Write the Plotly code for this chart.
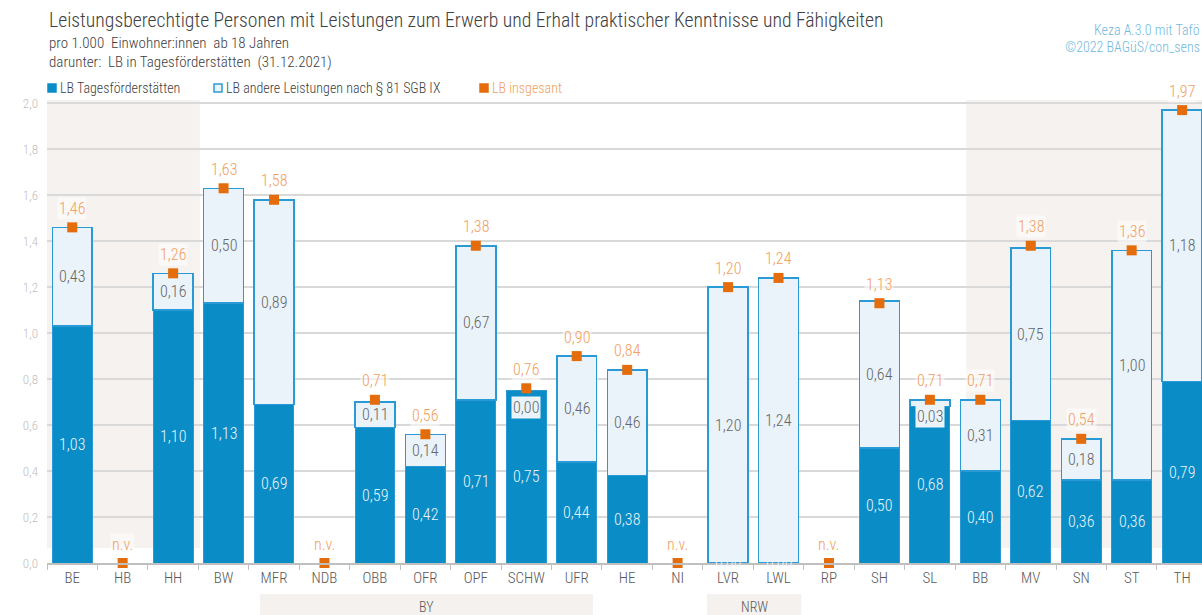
import plotly.graph_objects as go

# ---------------- data ----------------
categories = ["BE", "HB", "HH", "BW", "MFR", "NDB", "OBB", "OFR", "OPF", "SCHW", "UFR", "HE",
              "NI", "LVR", "LWL", "RP", "SH", "SL", "BB", "MV", "SN", "ST", "TH"]
lb_tagesfoerder = [1.03, None, 1.10, 1.13, 0.69, None, 0.59, 0.42, 0.71, 0.75, 0.44, 0.38,
                   None, 0.00, 0.00, None, 0.50, 0.68, 0.40, 0.62, 0.36, 0.36, 0.79]
lb_andere = [0.43, None, 0.16, 0.50, 0.89, None, 0.11, 0.14, 0.67, 0.00, 0.46, 0.46,
             None, 1.20, 1.24, None, 0.64, 0.03, 0.31, 0.75, 0.18, 1.00, 1.18]
lb_insgesamt = [1.46, None, 1.26, 1.63, 1.58, None, 0.71, 0.56, 1.38, 0.76, 0.90, 0.84,
                None, 1.20, 1.24, None, 1.13, 0.71, 0.71, 1.38, 0.54, 1.36, 1.97]
y_ticks = [0.0, 0.2, 0.4, 0.6, 0.8, 1.0, 1.2, 1.4, 1.6, 1.8, 2.0]

title = "Leistungsberechtigte Personen mit Leistungen zum Erwerb und Erhalt praktischer Kenntnisse und Fähigkeiten"
subtitle1 = "pro 1.000  Einwohner:innen  ab 18 Jahren"
subtitle2 = "darunter:  LB in Tagesförderstätten  (31.12.2021)"
source1 = "Keza A.3.0 mit Tafö"
source2 = "©2022 BAGüS/con_sens"
legend_names = ["LB Tagesförderstätten", "LB andere Leistungen nach § 81 SGB IX", "LB insgesant"]
groups = [("BY", 3.72, 10.32), ("NRW", 12.58, 14.45)]

# ---------------- style ----------------
FONT = "Liberation Sans Narrow, Arial Narrow, Roboto Condensed, DejaVu Sans Condensed, sans-serif"
DARK = "#0a8cc6"
LIGHT = "#eaf3fa"
BORDER = "#2a9ad6"
ORANGE = "#e46c0a"
ORANGE_TXT = "#f0a060"
BEIGE = "#f5f2ef"
GREY_TXT = "#595959"

W, H = 1202, 615
L, R, T, B = 47, 0, 100, 52
PW, PH = W - L - R, H - T - B
X_MAX = 22.394
Y_MAX = 2.014


def px(x):
    return (x - L) / PW


def py(y):
    return (H - B - y) / PH


def fmt(v):
    return f"{v:.2f}".replace(".", ",")


fig = go.Figure()

fig.add_bar(x=categories, y=lb_tagesfoerder, width=0.79,
            marker=dict(color=DARK, line=dict(color=BORDER, width=1)),
            name=legend_names[0], showlegend=False, hoverinfo="skip")
fig.add_bar(x=categories, y=lb_andere, width=0.79,
            marker=dict(color=LIGHT, line=dict(color=BORDER, width=1.5)),
            name=legend_names[1], showlegend=False, hoverinfo="skip")

marker_y = [v if v is not None else 0 for v in lb_insgesamt]
fig.add_scatter(x=categories, y=marker_y, mode="markers",
                marker=dict(symbol="square", size=10, color=ORANGE),
                cliponaxis=False, showlegend=False, hoverinfo="skip")

annotations = []
for i, c in enumerate(categories):
    tf = lb_tagesfoerder[i]
    ot = lb_andere[i]
    tot = lb_insgesamt[i]
    if tf is not None:
        annotations.append(dict(x=c, y=tf / 2, yshift=2 if tf == 0 else 0, text=fmt(tf),
                                showarrow=False,
                                font=dict(family=FONT, size=16, color="#e8f4fb", weight=300),
                                yanchor="middle"))
    if ot is not None:
        if ot >= 0.08:
            annotations.append(dict(x=c, y=tf + ot / 2, text=fmt(ot), showarrow=False,
                                    font=dict(family=FONT, size=16, color="#666666", weight=300),
                                    yanchor="middle"))
        else:
            annotations.append(dict(x=c, y=tf + ot, yshift=-5, text=fmt(ot), showarrow=False,
                                    font=dict(family=FONT, size=16, color="#666666", weight=300),
                                    bgcolor=LIGHT, yanchor="top"))
    label = fmt(tot) if tot is not None else "n.v."
    annotations.append(dict(x=c, y=marker_y[i], yshift=19, text=label, showarrow=False,
                            font=dict(family=FONT, size=16, color=ORANGE_TXT, weight=300),
                            bgcolor="rgba(255,255,255,0.55)", yanchor="middle"))

# title / subtitles
annotations += [
    dict(xref="paper", yref="paper", x=px(47), y=py(20), text=title, showarrow=False,
         xanchor="left", yanchor="middle",
         font=dict(family=FONT, size=19.7, color="#404040", weight=300)),
    dict(xref="paper", yref="paper", x=px(47), y=py(43), text=subtitle1, showarrow=False,
         xanchor="left", yanchor="middle",
         font=dict(family=FONT, size=15, color="#404040", weight=300)),
    dict(xref="paper", yref="paper", x=px(47), y=py(62), text=subtitle2, showarrow=False,
         xanchor="left", yanchor="middle",
         font=dict(family=FONT, size=15, color="#404040", weight=300)),
    dict(xref="paper", yref="paper", x=px(1202), y=py(30), text=source1, showarrow=False,
         xanchor="right", yanchor="middle",
         font=dict(family=FONT, size=14, color="#73b9e0", weight=300)),
    dict(xref="paper", yref="paper", x=px(1202), y=py(47), text=source2, showarrow=False,
         xanchor="right", yanchor="middle",
         font=dict(family=FONT, size=14, color="#73b9e0", weight=300)),
]

# legend (manual)
shapes = []
leg = [(48, legend_names[0], DARK, DARK, "#404040"),
       (214, legend_names[1], LIGHT, BORDER, "#404040"),
       (480, legend_names[2], ORANGE, ORANGE, ORANGE_TXT)]
for x0, name, fill, line, tc in leg:
    shapes.append(dict(type="rect", xref="paper", yref="paper",
                       x0=px(x0), x1=px(x0 + 8), y0=py(92), y1=py(84),
                       fillcolor=fill, line=dict(color=line, width=1.5), layer="above"))
    annotations.append(dict(xref="paper", yref="paper", x=px(x0 + 10), y=py(88), text=name,
                            showarrow=False, xanchor="left", yanchor="middle",
                            font=dict(family=FONT, size=14, color=tc, weight=300)))

# background shading
shapes.append(dict(type="rect", xref="x", yref="y", x0=-0.5, x1=2.53, y0=0.065, y1=Y_MAX,
                   fillcolor=BEIGE, line=dict(width=0), layer="below"))
shapes.append(dict(type="rect", xref="x", yref="y", x0=17.72, x1=X_MAX, y0=0.065, y1=Y_MAX,
                   fillcolor=BEIGE, line=dict(width=0), layer="below"))

# group bands below axis
for name, g0, g1 in groups:
    shapes.append(dict(type="rect", xref="x", yref="paper", x0=g0, x1=g1,
                       y0=py(615), y1=py(594), fillcolor="#f4f1ee", line=dict(width=0),
                       layer="below"))
    annotations.append(dict(x=(g0 + g1) / 2, xref="x", yref="paper", y=py(607), text=name,
                            showarrow=False, yanchor="middle",
                            font=dict(family=FONT, size=14, color=GREY_TXT, weight=300)))

fig.update_layout(
    width=W, height=H,
    margin=dict(l=L, r=R, t=T, b=B, autoexpand=False),
    barmode="stack",
    bargap=0.21,
    separators=",.",
    paper_bgcolor="white",
    plot_bgcolor="white",
    showlegend=False,
    annotations=annotations,
    shapes=shapes,
    font=dict(family=FONT),
)
fig.update_xaxes(range=[-0.5, X_MAX], showgrid=False, showline=True, linecolor="#bfbfbf",
                 linewidth=1.5, ticks="outside", tickson="boundaries", ticklen=5,
                 tickcolor="#bfbfbf",
                 tickfont=dict(family=FONT, size=15, color=GREY_TXT, weight=300),
                 fixedrange=True)
fig.update_yaxes(range=[0, Y_MAX], tickvals=y_ticks, tickformat=".1f", showgrid=True,
                 gridcolor="#d9d9d9", gridwidth=1.5, zeroline=False, showline=False,
                 tickfont=dict(family=FONT, size=13, color="#c0c0c0", weight=300),
                 ticklabelstandoff=8, fixedrange=True)

fig.write_html("out.html", config={"displayModeBar": False},
               post_script="document.body.style.margin='0';document.body.style.overflow='hidden';")
